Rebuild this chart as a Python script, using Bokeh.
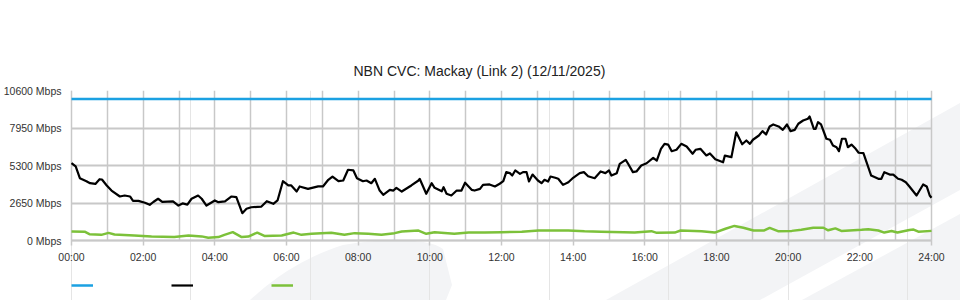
from urllib.parse import quote
from bokeh.plotting import figure
from bokeh.models import (Range1d, FixedTicker, Legend, LegendItem, InlineStyleSheet,
                          LinearAxis, Grid)
from bokeh.embed import file_html
from bokeh.resources import INLINE

# ---------------- data ----------------
title_text = "NBN CVC: Mackay (Link 2) (12/11/2025)"

x_tick_minutes = [0, 120, 240, 360, 480, 600, 720, 840, 960, 1080, 1200, 1320, 1440]
x_tick_labels = ["00:00", "02:00", "04:00", "06:00", "08:00", "10:00", "12:00",
                 "14:00", "16:00", "18:00", "20:00", "22:00", "24:00"]
y_tick_values = [0, 2650, 5300, 7950, 10600]
y_tick_labels = ["0 Mbps", "2650 Mbps", "5300 Mbps", "7950 Mbps", "10600 Mbps"]

capacity_minutes = [0, 1440]
capacity_mbps = [10000, 10000]

traffic_minutes = [0, 7, 14, 25, 31, 40, 47, 51, 59, 67, 81, 89, 98, 103, 112, 123, 131, 137,
                   145, 152, 170, 179, 186, 194, 201, 212, 218, 226, 240, 246, 257, 268, 276,
                   286, 293, 301, 318, 327, 338, 345, 354, 363, 368, 377, 382, 396, 413, 421,
                   430, 437, 447, 455, 463, 472, 478, 488, 494, 502, 508, 516, 522, 533, 539,
                   544, 553, 569, 581, 583, 594, 603, 608, 620, 623, 628, 636, 645, 653, 659,
                   670, 675, 684, 689, 700, 709, 717, 723, 728, 734, 738, 743, 751, 756, 762,
                   766, 772, 781, 787, 792, 798, 802, 810, 815, 823, 832, 840, 851, 858, 865,
                   876, 886, 894, 900, 904, 913, 918, 928, 932, 940, 946, 954, 963, 974, 980,
                   987, 993, 999, 1005, 1013, 1021, 1030, 1040, 1045, 1053, 1063, 1069, 1078,
                   1091, 1094, 1105, 1113, 1123, 1130, 1136, 1141, 1151, 1157, 1163, 1169,
                   1175, 1184, 1191, 1198, 1204, 1211, 1217, 1225, 1233, 1236, 1243, 1246,
                   1250, 1255, 1264, 1270, 1275, 1281, 1285, 1290, 1296, 1300, 1306, 1313,
                   1318, 1326, 1339, 1351, 1356, 1361, 1370, 1376, 1384, 1390, 1397, 1403,
                   1415, 1426, 1432, 1437, 1440]
traffic_mbps = [5460, 5230, 4400, 4190, 4050, 4000, 4330, 4310, 3890, 3530, 3110, 3180, 3110,
                2800, 2800, 2670, 2520, 2720, 2950, 2730, 2770, 2470, 2620, 2540, 2950, 3180,
                2950, 2470, 2830, 2710, 2760, 3110, 3060, 1930, 2240, 2350, 2400, 2780, 2590,
                2830, 4190, 3890, 3890, 3460, 3820, 3650, 3820, 3820, 4290, 4520, 4190, 4240,
                5000, 4950, 4400, 4190, 4240, 4050, 4360, 3530, 3230, 3580, 3530, 3720, 3460,
                3890, 4240, 4360, 3300, 4050, 3720, 3480, 3770, 3300, 3180, 3530, 3530, 4080,
                3580, 3530, 3650, 3930, 3960, 3820, 4010, 4190, 4830, 4760, 4590, 4950, 4710,
                4830, 4830, 4170, 4660, 4240, 4050, 4290, 4170, 4520, 4430, 4360, 3930, 4120,
                4430, 4760, 4830, 4540, 4400, 4880, 4760, 4950, 4590, 4760, 5420, 5700, 5420,
                4830, 4880, 5300, 5460, 5840, 5650, 6480, 6830, 6780, 6310, 6410, 6830, 6640,
                6130, 6410, 6480, 6010, 6150, 5740, 5530, 6000, 5890, 7650, 6800, 7070, 6830,
                7120, 7420, 7730, 7490, 8060, 8200, 8060, 7820, 8200, 7730, 7820, 8250, 8480,
                8600, 8760, 7890, 7890, 8360, 8200, 7190, 7120, 6710, 6590, 6310, 7190, 7190,
                6590, 6780, 6480, 6200, 6170, 4590, 4360, 4360, 4830, 4660, 4660, 4360, 4290,
                4120, 3820, 3180, 3960, 3820, 3180, 3020]

upload_minutes = [0, 22, 30, 50, 62, 72, 105, 134, 172, 196, 218, 229, 246, 256, 270, 285,
                  296, 311, 323, 352, 372, 385, 402, 435, 457, 474, 497, 519, 541, 553, 581,
                  594, 608, 641, 665, 692, 720, 754, 782, 832, 859, 887, 943, 971, 980, 1010,
                  1020, 1055, 1077, 1095, 1110, 1125, 1142, 1160, 1169, 1183, 1206, 1222,
                  1242, 1259, 1267, 1279, 1289, 1323, 1334, 1351, 1361, 1373, 1383, 1403,
                  1410, 1418, 1440]
upload_mbps = [640, 620, 450, 400, 540, 420, 350, 290, 240, 350, 290, 200, 240, 400, 590, 240,
               280, 560, 320, 350, 560, 400, 470, 540, 400, 520, 470, 400, 520, 640, 700, 470,
               590, 470, 570, 560, 590, 620, 710, 700, 650, 620, 560, 660, 540, 560, 710, 650,
               560, 830, 1030, 900, 710, 710, 890, 660, 680, 760, 900, 900, 720, 860, 680, 760,
               800, 710, 560, 670, 560, 740, 770, 620, 680]

# ---------------- background watermark (decorative, page pixels) ----------------
wm_svg = (
    "<svg xmlns='http://www.w3.org/2000/svg' width='960' height='300'>"
    "<g fill='#f3f4f6'>"
    "<path d='M250 300 C262 290 290 262 343 245 C380 238 430 238 443 249 "
    "L452 285 L446 300 Z'/>"
    "<path d='M606 300 L960 103 L960 190 L760 300 Z'/>"
    "<path d='M802 300 L960 214 L960 300 Z'/>"
    "</g></svg>"
)
wm_css = InlineStyleSheet(css=(
    ":host { background-color: white; background-repeat: no-repeat; "
    "background-image: url(\"data:image/svg+xml;utf8," + quote(wm_svg) + "\"); }"
))

# ---------------- figure ----------------
# The frame is a little larger than the plotted day (20 px each side, down to the page
# bottom) so that the edge tick labels and the legend strip are not clipped.
pad_minutes = 1440 * 20 / 860
p = figure(frame_width=900, frame_height=210, output_backend="svg", toolbar_location=None,
           x_range=Range1d(-pad_minutes, 1440 + pad_minutes), y_range=Range1d(-4240, 10600),
           x_axis_location=None, min_border_left=50, min_border_right=10,
           min_border_top=90, min_border_bottom=0, title=title_text)
p.stylesheets = [wm_css]
p.outline_line_color = None
p.background_fill_color = None
p.border_fill_color = None

p.title.align = "left"
p.title.offset = 302
p.title.text_font = "Liberation Sans"
p.title.text_font_size = "14px"
p.title.text_font_style = "normal"
p.title.text_color = "#222222"
p.title.standoff = 24

grid_color = "#c8c8c8"
xgrid = Grid(dimension=0, ticker=FixedTicker(ticks=list(range(0, 1441, 60))),
             cross_bounds=(0, 10600), grid_line_color=grid_color, grid_line_width=1.5)
p.add_layout(xgrid)
p.ygrid.ticker = FixedTicker(ticks=y_tick_values)
p.ygrid.cross_bounds = (0, 1440)
p.ygrid.grid_line_color = grid_color
p.ygrid.grid_line_width = 2

# time axis drawn at value 0, ticks and labels pointing down
xaxis = LinearAxis(fixed_location=0, bounds=(0, 1440),
                   ticker=FixedTicker(ticks=x_tick_minutes),
                   major_label_overrides=dict(zip(x_tick_minutes, x_tick_labels)),
                   axis_line_color=grid_color, axis_line_width=1.5,
                   major_tick_line_color=grid_color, major_tick_line_width=1.5,
                   major_tick_in=5, major_tick_out=0,
                   minor_tick_line_color=None, minor_tick_in=0, minor_tick_out=0,
                   major_label_text_font="Liberation Sans",
                   major_label_text_font_size="10.5px",
                   major_label_text_color="#333333",
                   major_label_standoff=-22)
p.add_layout(xaxis, "above")

p.yaxis.ticker = FixedTicker(ticks=y_tick_values)
p.yaxis.major_label_overrides = dict(zip(y_tick_values, y_tick_labels))
p.yaxis.axis_line_color = None
p.yaxis.major_tick_line_color = None
p.yaxis.major_tick_in = 0
p.yaxis.major_tick_out = 0
p.yaxis.minor_tick_line_color = None
p.yaxis.minor_tick_in = 0
p.yaxis.minor_tick_out = 0
p.yaxis.major_label_text_font = "Liberation Sans"
p.yaxis.major_label_text_font_size = "10.5px"
p.yaxis.major_label_text_color = "#333333"
p.yaxis.major_label_standoff = -10

r_cap = p.line(capacity_minutes, capacity_mbps, line_color="#1ba1e2", line_width=2.5)
r_up = p.line(upload_minutes, upload_mbps, line_color="#7cc13a", line_width=2.5)
r_down = p.line(traffic_minutes, traffic_mbps, line_color="#000000", line_width=2.2,
                line_join="round")

legend = Legend(items=[LegendItem(label=" ", renderers=[r_cap]),
                       LegendItem(label=" ", renderers=[r_down]),
                       LegendItem(label=" ", renderers=[r_up])],
                orientation="horizontal", location=(20, 10),
                glyph_width=22, glyph_height=10, label_height=10, label_width=0,
                label_standoff=0, spacing=78, padding=0, margin=0,
                label_text_font_size="1px",
                border_line_color=None, background_fill_alpha=0)
p.add_layout(legend, "center")

open("out.html", "w").write(file_html(p, INLINE))
